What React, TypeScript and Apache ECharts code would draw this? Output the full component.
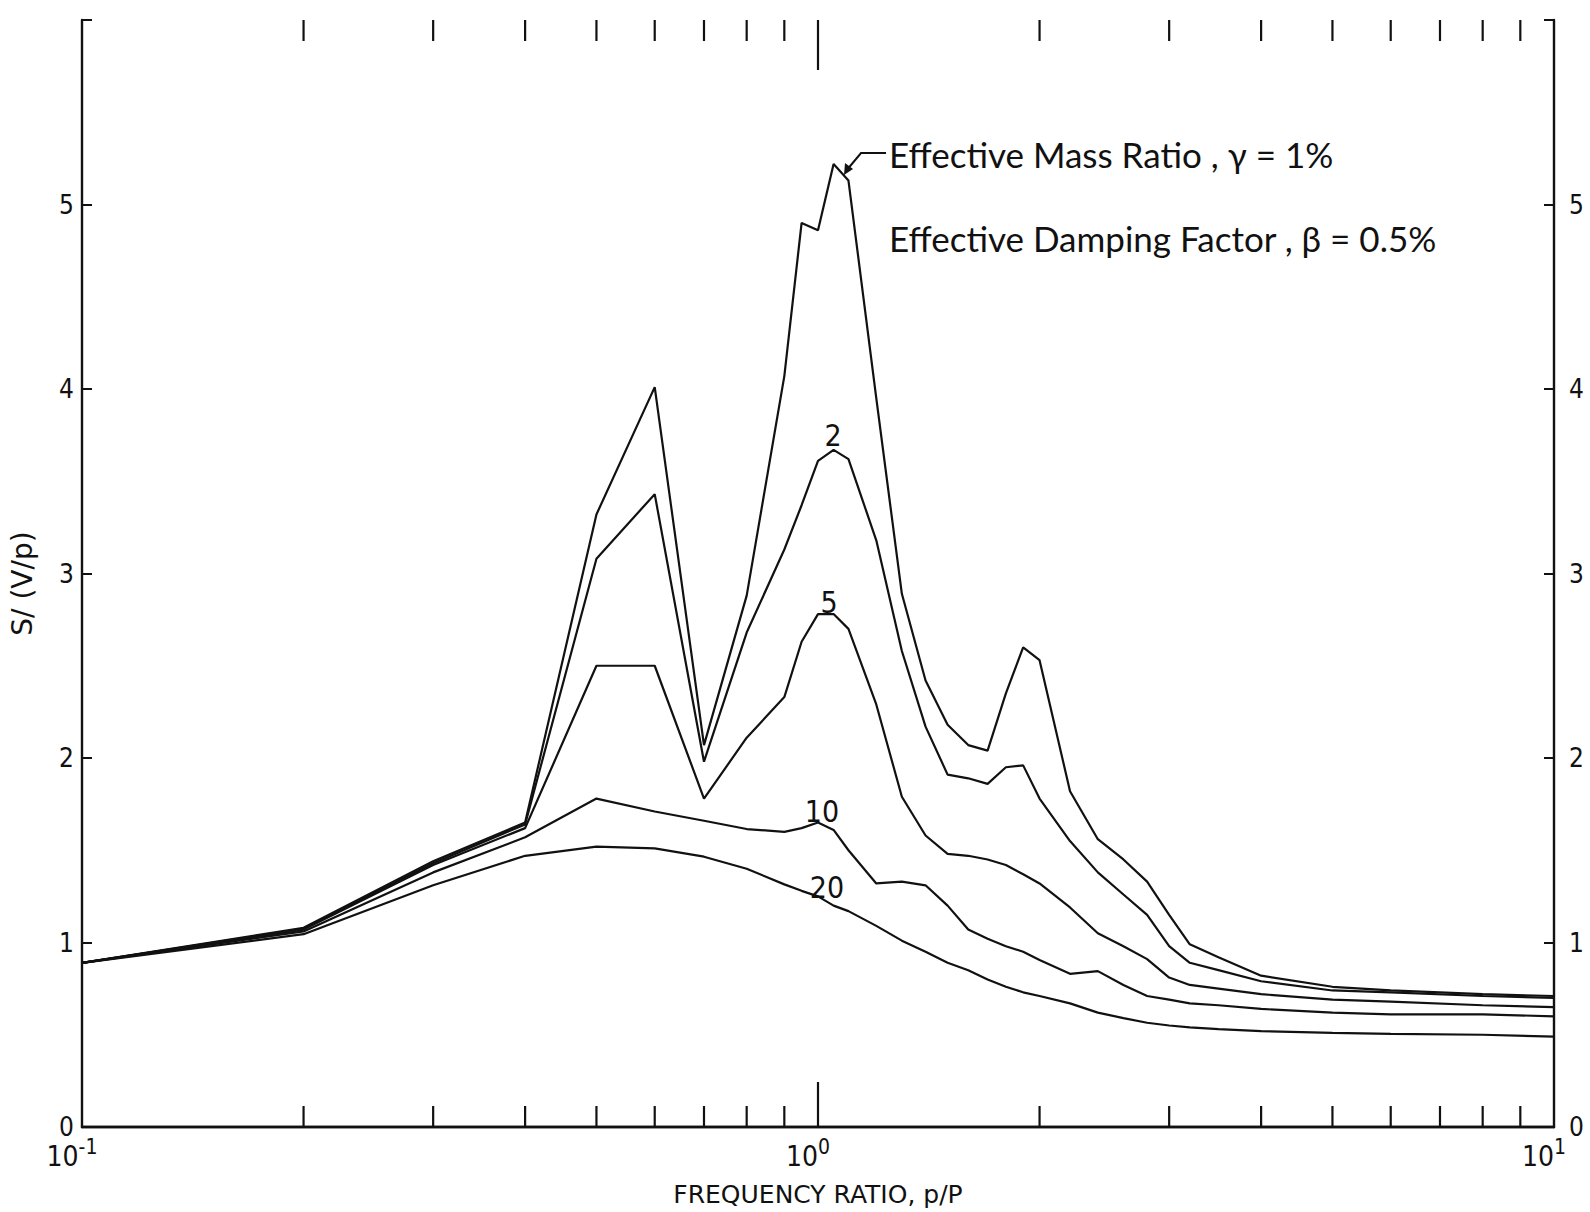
import React, { useEffect, useRef } from "react";
import * as echarts from "echarts";

// Frequency ratio p/P sampled along every curve
const FREQ = [0.1, 0.2, 0.3, 0.4, 0.5, 0.6, 0.7, 0.8, 0.9, 0.95, 1.0, 1.05, 1.1, 1.2, 1.3, 1.4, 1.5, 1.6, 1.7, 1.8, 1.9, 2.0, 2.2, 2.4, 2.6, 2.8, 3.0, 3.2, 3.5, 4.0, 5.0, 6.0, 8.0, 10.0];

// S/(V/p) for effective mass ratio gamma = 1, 2, 5, 10, 20 %
const S_GAMMA_1 = [0.89, 1.08, 1.44, 1.65, 3.32, 4.01, 2.07, 2.88, 4.07, 4.9, 4.86, 5.22, 5.13, 3.95, 2.89, 2.42, 2.18, 2.07, 2.04, 2.35, 2.6, 2.53, 1.82, 1.56, 1.45, 1.33, 1.15, 0.99, 0.92, 0.82, 0.76, 0.74, 0.72, 0.71];
const S_GAMMA_2 = [0.89, 1.075, 1.43, 1.64, 3.08, 3.43, 1.98, 2.68, 3.13, 3.37, 3.61, 3.67, 3.62, 3.18, 2.58, 2.17, 1.91, 1.89, 1.86, 1.95, 1.96, 1.78, 1.55, 1.38, 1.26, 1.15, 0.98, 0.89, 0.85, 0.79, 0.74, 0.73, 0.71, 0.7];
const S_GAMMA_5 = [0.89, 1.07, 1.42, 1.62, 2.5, 2.5, 1.78, 2.11, 2.33, 2.63, 2.78, 2.78, 2.7, 2.29, 1.79, 1.58, 1.48, 1.47, 1.45, 1.42, 1.37, 1.32, 1.19, 1.05, 0.98, 0.91, 0.81, 0.77, 0.75, 0.72, 0.69, 0.68, 0.66, 0.65];
const S_GAMMA_10 = [0.89, 1.06, 1.38, 1.57, 1.78, 1.71, 1.66, 1.615, 1.6, 1.62, 1.65, 1.61, 1.5, 1.32, 1.33, 1.31, 1.2, 1.07, 1.02, 0.98, 0.95, 0.905, 0.83, 0.845, 0.77, 0.71, 0.69, 0.67, 0.66, 0.64, 0.62, 0.61, 0.61, 0.6];
const S_GAMMA_20 = [0.89, 1.045, 1.31, 1.47, 1.52, 1.51, 1.465, 1.4, 1.315, 1.28, 1.25, 1.2, 1.17, 1.09, 1.01, 0.95, 0.89, 0.85, 0.8, 0.76, 0.73, 0.71, 0.67, 0.62, 0.59, 0.565, 0.55, 0.54, 0.53, 0.52, 0.51, 0.505, 0.5, 0.49];

const SERIES_NAMES = ["γ = 1%", "γ = 2%", "γ = 5%", "γ = 10%", "γ = 20%"];
const CURVE_LABELS = ["2", "5", "10", "20"];

// Inside ticks of the logarithmic frequency axis (bottom and top)
const MINOR_TICKS = [0.2, 0.3, 0.4, 0.5, 0.6, 0.7, 0.8, 0.9, 2, 3, 4, 5, 6, 7, 8, 9];
const MAJOR_TICKS = [1];

const Y_MIN = 0;
const Y_MAX = 6;

const INK = "#111";
const PLOT_FONT = "'DejaVu Sans Condensed', 'DejaVu Sans', sans-serif";
const TITLE_FONT = "'DejaVu Sans', sans-serif";
const NOTE_FONT = "Lato, 'Noto Sans', sans-serif";

export default function App() {
  const ref = useRef<HTMLDivElement>(null);

  useEffect(() => {
    if (!ref.current) return;
    const chart = echarts.init(ref.current, undefined, { renderer: "svg" });

    const curves = [S_GAMMA_1, S_GAMMA_2, S_GAMMA_5, S_GAMMA_10, S_GAMMA_20];

    const lineSeries = curves.map((vals, k) => ({
      name: SERIES_NAMES[k],
      type: "line",
      data: FREQ.map((f, i) => [f, vals[i]]),
      symbol: "none",
      silent: true,
      lineStyle: { color: INK, width: 2.2 },
      z: 3,
    }));

    const tickStyle = { stroke: INK, lineWidth: 2.2 };
    const tickData = [
      ...MINOR_TICKS.map((p) => [p, Y_MIN, 21, 21]),
      ...MAJOR_TICKS.map((p) => [p, Y_MIN, 45, 50]),
    ];
    const tickSeries = {
      type: "custom",
      silent: true,
      data: tickData,
      renderItem: (_params: any, api: any) => {
        const p = api.value(0);
        const lenBottom = api.value(2);
        const lenTop = api.value(3);
        const b = api.coord([p, Y_MIN]);
        const t = api.coord([p, Y_MAX]);
        return {
          type: "group",
          children: [
            { type: "line", shape: { x1: b[0], y1: b[1], x2: b[0], y2: b[1] - lenBottom }, style: tickStyle },
            { type: "line", shape: { x1: t[0], y1: t[1], x2: t[0], y2: t[1] + lenTop }, style: tickStyle },
          ],
        };
      },
      z: 4,
    };

    const xLabelFormatter = (v: number) => {
      const e = Math.round(Math.log10(v));
      return "{b|10}{s|" + e + "}{p|}";
    };

    const option: any = {
      animation: false,
      backgroundColor: "#fff",
      grid: { left: 81, right: 36, top: 20, bottom: 82 },
      xAxis: [
        {
          type: "log",
          logBase: 10,
          min: 0.1,
          max: 10,
          position: "bottom",
          name: "FREQUENCY RATIO, p/P",
          nameLocation: "middle",
          nameGap: 55,
          nameTextStyle: { fontFamily: TITLE_FONT, fontSize: 25, color: INK },
          axisLine: { show: true, lineStyle: { color: INK, width: 2.4 } },
          axisTick: { show: false },
          minorTick: { show: false },
          splitLine: { show: false },
          axisLabel: {
            show: true,
            margin: 9,
            showMinLabel: true,
            showMaxLabel: true,
            formatter: xLabelFormatter,
            rich: {
              b: { fontFamily: PLOT_FONT, fontSize: 28, color: INK, lineHeight: 34, verticalAlign: "bottom" },
              s: { fontFamily: PLOT_FONT, fontSize: 21, color: INK, lineHeight: 22, verticalAlign: "top" },
              p: { width: 20, lineHeight: 22 },
            },
          },
        },
        {
          type: "log",
          logBase: 10,
          min: 0.1,
          max: 10,
          position: "top",
          axisLine: { show: true, lineStyle: { color: INK, width: 2.4 } },
          axisTick: { show: false },
          axisLabel: { show: false },
          splitLine: { show: false },
        },
      ],
      yAxis: [
        {
          type: "value",
          min: Y_MIN,
          max: Y_MAX,
          interval: 1,
          position: "left",
          name: "S/ (V/p)",
          nameLocation: "middle",
          nameGap: 46,
          nameRotate: 90,
          nameTextStyle: { fontFamily: TITLE_FONT, fontSize: 28, color: INK, padding: [0, 20, 0, 0] },
          axisLine: { show: true, lineStyle: { color: INK, width: 2.4 } },
          axisTick: { show: true, inside: true, length: 10, lineStyle: { color: INK, width: 2 } },
          splitLine: { show: false },
          axisLabel: {
            margin: 8,
            fontFamily: PLOT_FONT,
            fontSize: 26,
            color: INK,
            formatter: (v: number) => (v === Y_MAX ? "" : String(v)),
          },
        },
        {
          type: "value",
          min: Y_MIN,
          max: Y_MAX,
          interval: 1,
          position: "right",
          axisLine: { show: true, lineStyle: { color: INK, width: 2.4 } },
          axisTick: { show: true, inside: true, length: 10, lineStyle: { color: INK, width: 2 } },
          splitLine: { show: false },
          axisLabel: {
            margin: 15,
            fontFamily: PLOT_FONT,
            fontSize: 26,
            color: INK,
            formatter: (v: number) => (v === Y_MAX ? "" : String(v)),
          },
        },
      ],
      series: [...lineSeries, tickSeries],
      graphic: [
        {
          type: "text",
          x: 889,
          y: 154,
          style: {
            text: "Effective Mass Ratio , γ = 1%",
            fontFamily: NOTE_FONT,
            fontSize: 35,
            fill: INK,
            align: "left",
            verticalAlign: "middle",
          },
        },
        {
          type: "text",
          x: 889,
          y: 238,
          style: {
            text: "Effective Damping Factor , β = 0.5%",
            fontFamily: NOTE_FONT,
            fontSize: 35,
            fill: INK,
            align: "left",
            verticalAlign: "middle",
          },
        },
        {
          type: "polyline",
          shape: { points: [[886, 153], [861, 153], [846, 171]] },
          style: { stroke: INK, lineWidth: 2, fill: null },
        },
        {
          type: "polygon",
          shape: { points: [[844, 175], [845, 163], [853, 169]] },
          style: { fill: INK },
        },
        {
          type: "text",
          x: 833,
          y: 435,
          style: { text: CURVE_LABELS[0], fontFamily: PLOT_FONT, fontSize: 30, fill: INK, align: "center", verticalAlign: "middle" },
        },
        {
          type: "text",
          x: 829,
          y: 602,
          style: { text: CURVE_LABELS[1], fontFamily: PLOT_FONT, fontSize: 30, fill: INK, align: "center", verticalAlign: "middle" },
        },
        {
          type: "text",
          x: 822,
          y: 811,
          style: { text: CURVE_LABELS[2], fontFamily: PLOT_FONT, fontSize: 30, fill: INK, align: "center", verticalAlign: "middle" },
        },
        {
          type: "text",
          x: 827,
          y: 887,
          style: { text: CURVE_LABELS[3], fontFamily: PLOT_FONT, fontSize: 30, fill: INK, align: "center", verticalAlign: "middle" },
        },
      ],
    };

    chart.setOption(option);
    return () => {
      chart.dispose();
    };
  }, []);

  return (
    <div
      ref={ref}
      style={{ position: "absolute", left: 0, top: 0, width: 1590, height: 1212, background: "#fff" }}
    />
  );
}
